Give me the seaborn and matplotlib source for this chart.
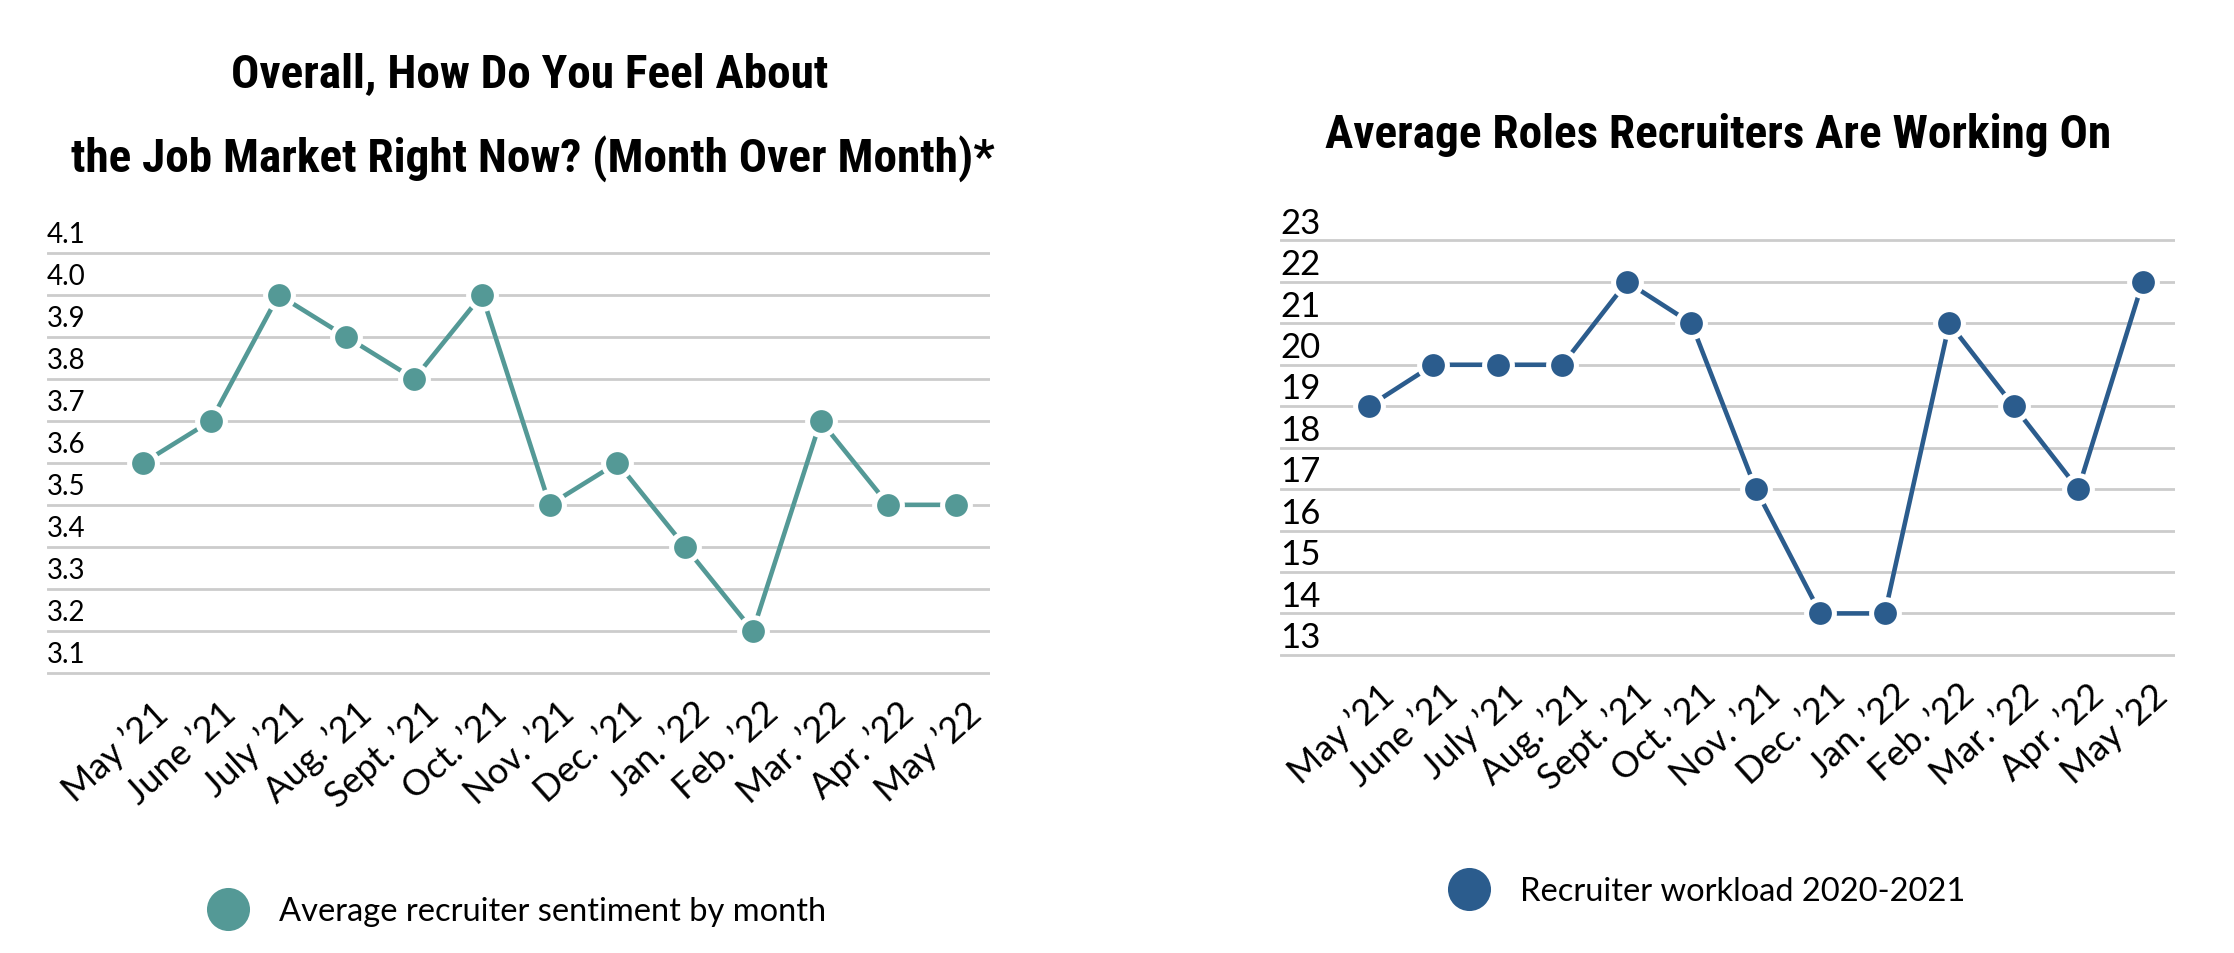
import numpy as np
import pandas as pd
import seaborn as sns
import matplotlib.pyplot as plt
from matplotlib import font_manager
from matplotlib.lines import Line2D
from matplotlib.transforms import ScaledTranslation

MONTHS = ["May ’21", "June ’21", "July ’21", "Aug. ’21", "Sept. ’21", "Oct. ’21", "Nov. ’21",
          "Dec. ’21", "Jan. ’22", "Feb. ’22", "Mar. ’22", "Apr. ’22", "May ’22"]
SENTIMENT = [3.5, 3.6, 3.9, 3.8, 3.7, 3.9, 3.4, 3.5, 3.3, 3.1, 3.6, 3.4, 3.4]
WORKLOAD  = [18, 19, 19, 19, 21, 20, 16, 13, 13, 20, 18, 16, 21]

SENT_GRID   = [3.0, 3.1, 3.2, 3.3, 3.4, 3.5, 3.6, 3.7, 3.8, 3.9, 4.0]
SENT_LABELS = ["3.1", "3.2", "3.3", "3.4", "3.5", "3.6", "3.7", "3.8", "3.9", "4.0", "4.1"]
WORK_GRID   = [12, 13, 14, 15, 16, 17, 18, 19, 20, 21, 22]
WORK_LABELS = ["13", "14", "15", "16", "17", "18", "19", "20", "21", "22", "23"]

TEAL = "#549996"
BLUE = "#2b5c8d"
GRID = "#cccccc"

sns.set_theme(style="white")
avail = {f.name for f in font_manager.fontManager.ttflist}
BODY = "Lato" if "Lato" in avail else "DejaVu Sans"
TITLE = next((n for n in ["Liberation Sans Narrow", "Roboto Condensed"] if n in avail), BODY)
TITLE_SIZE = 34 if TITLE != BODY else 30
plt.rcParams["font.family"] = [BODY, "DejaVu Sans"]
plt.rcParams.update({"text.color": "black", "xtick.color": "black", "ytick.color": "black"})

W, H = 2234, 954
fig = plt.figure(figsize=(W / 100, H / 100), dpi=100)

def fx(px): return px / W
def fy(py): return 1 - py / H

def panel(rect, values, grid, labels, step, color, ylim, xlim, ysize):
    ax = fig.add_axes(rect)
    df = pd.DataFrame({"pos": np.arange(len(MONTHS)), "value": values})
    sns.lineplot(data=df, x="pos", y="value", color=color, lw=3.3, marker="o",
                 markersize=20, markeredgecolor="white", markeredgewidth=3.6,
                 legend=False, ax=ax, zorder=3)
    ax.set_xlim(*xlim)
    ax.set_ylim(*ylim)
    ax.set_yticks(grid, [""] * len(grid))
    # labels sit half a step below their gridline, left-aligned inside the plot
    ax.set_yticks([float(l) - step / 2 for l in labels], labels, minor=True)
    ax.tick_params(axis="y", which="both", length=0, pad=0, labelsize=ysize)
    for t in ax.get_yticklabels(minor=True):
        t.set_horizontalalignment("left")
    ax.set_xticks(np.arange(len(MONTHS)), MONTHS, rotation=42, ha="right",
                  va="center", rotation_mode="anchor", fontsize=26)
    ax.tick_params(axis="x", length=0, pad=22)
    off = ScaledTranslation(0.20, 0, fig.dpi_scale_trans)
    for t in ax.get_xticklabels():
        t.set_transform(t.get_transform() + off)
    ax.grid(axis="y", which="major", color=GRID, lw=2)
    ax.grid(axis="x", visible=False)
    ax.set_axisbelow(True)
    for s in ax.spines.values():
        s.set_visible(False)
    ax.set_xlabel("")
    ax.set_ylabel("")
    return ax

ax1 = panel([fx(47), fy(678), fx(990 - 47), (678 - 214) / H], SENTIMENT, SENT_GRID,
            SENT_LABELS, 0.1, TEAL, (2.99, 4.095), (-1.42, 12.5), 20)
ax2 = panel([fx(1280), fy(660), fx(2175 - 1280), (660 - 200) / H], WORKLOAD, WORK_GRID,
            WORK_LABELS, 1, BLUE, (11.9, 23.0), (-1.38, 12.5), 25)

fig.text(fx(530), fy(87), "Overall, How Do You Feel About", ha="center", va="baseline",
         fontsize=TITLE_SIZE, fontweight="bold", family=[TITLE, "DejaVu Sans"])
fig.text(fx(533), fy(172), "the Job Market Right Now? (Month Over Month)*", ha="center",
         va="baseline", fontsize=TITLE_SIZE, fontweight="bold", family=[TITLE, "DejaVu Sans"])
fig.text(fx(1718), fy(148), "Average Roles Recruiters Are Working On", ha="center",
         va="baseline", fontsize=TITLE_SIZE, fontweight="bold", family=[TITLE, "DejaVu Sans"])

for ax, color, label, (lx, ly) in [(ax1, TEAL, "Average recruiter sentiment by month", (205, 912)),
                                   (ax2, BLUE, "Recruiter workload 2020-2021", (1446, 892))]:
    h = Line2D([], [], marker="o", ls="none", color=color, markersize=31, markeredgewidth=0)
    ax.legend([h], [label], loc="center left", bbox_to_anchor=(fx(lx), fy(ly)),
              bbox_transform=fig.transFigure, frameon=False, fontsize=23.5,
              handlelength=1.4, handletextpad=0.86, borderpad=0, borderaxespad=0)

fig.savefig("out.png", dpi=100)
